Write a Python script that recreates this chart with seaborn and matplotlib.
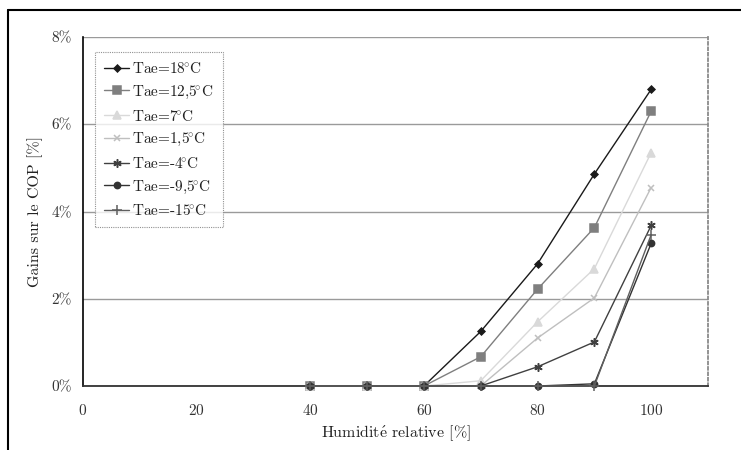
import pandas as pd
import matplotlib
matplotlib.use('Agg')
import matplotlib.pyplot as plt
from matplotlib.lines import Line2D
from matplotlib.ticker import FuncFormatter
import seaborn as sns

# humidité relative [%]
humidite = [40, 50, 60, 70, 80, 90, 100]

# gains sur le COP [%] pour chaque température extérieure
gain_18 = [0, 0, 0, 1.25, 2.80, 4.86, 6.80]
gain_12_5 = [0, 0, 0, 0.67, 2.22, 3.63, 6.30]
gain_7 = [0, 0, 0, 0.12, 1.47, 2.69, 5.35]
gain_1_5 = [0, 0, 0, 0, 1.10, 2.02, 4.55]
gain_m4 = [0, 0, 0, 0, 0.44, 1.01, 3.68]
gain_m9_5 = [0, 0, 0, 0, 0, 0.05, 3.27]
gain_m15 = [0, 0, 0, 0, 0, 0, 3.47]

deg = r'$\!^{\circ}$C'
series = ['Tae=18' + deg, 'Tae=12,5' + deg, 'Tae=7' + deg, 'Tae=1,5' + deg,
          'Tae=-4' + deg, 'Tae=-9,5' + deg, 'Tae=-15' + deg]
valeurs = [gain_18, gain_12_5, gain_7, gain_1_5, gain_m4, gain_m9_5, gain_m15]
couleurs = ['#1a1a1a', '#7f7f7f', '#d9d9d9', '#bfbfbf', '#404040', '#333333', '#5f5f5f']
marqueurs = ['D', 's', '^', 'x', (6, 2, 0), 'o', '+']
tailles = [3.5, 5.5, 5.5, 5, 6, 4.5, 7]

df = pd.concat([pd.DataFrame({'hr': humidite, 'gain': v, 'serie': s})
                for s, v in zip(series, valeurs)], ignore_index=True)

sns.set_style('white')
plt.rcParams['font.family'] = ['cmr10', 'DejaVu Serif']
plt.rcParams['axes.formatter.use_mathtext'] = True
plt.rcParams['mathtext.fontset'] = 'cm'

fig = plt.figure(figsize=(7.41, 4.5), dpi=100)
ax = fig.add_axes([83 / 741, 64 / 450, 625 / 741, 349 / 450])

for s, c, m, ms in zip(series, couleurs, marqueurs, tailles):
    sns.lineplot(data=df[df['serie'] == s], x='hr', y='gain', ax=ax, color=c,
                 marker=m, markersize=ms, markeredgecolor=c, markeredgewidth=1.1,
                 linewidth=1.0, label=s, clip_on=False, zorder=3)

ax.set_xlim(0, 110)
ax.set_ylim(0, 8)
ax.set_xticks([0, 20, 40, 60, 80, 100])
ax.set_yticks([0, 2, 4, 6, 8])
ax.yaxis.set_major_formatter(FuncFormatter(lambda v, p: f'{v:.0f}%'))
ax.grid(axis='y', color='#9a9a9a', linewidth=1)
ax.grid(axis='x', visible=False)
ax.tick_params(direction='inout', length=8, width=1, color='black',
               labelsize=11, labelcolor='#333333')
ax.tick_params(axis='x', pad=8)
ax.tick_params(axis='y', pad=4)

ax.spines['top'].set_visible(False)
ax.spines['left'].set_color('black')
ax.spines['left'].set_linewidth(1.2)
ax.spines['bottom'].set_color('#333333')
ax.spines['bottom'].set_linestyle((0, (2, 1)))
ax.spines['bottom'].set_linewidth(1.3)
ax.spines['right'].set_color('#8a8a8a')
ax.spines['right'].set_linestyle((0, (1.5, 1.5)))
ax.spines['right'].set_linewidth(1.3)

ax.set_xlabel(r'Humidit$\mathrm{\acute{e}}$ relative [%]', fontsize=11.5,
              color='#222222', labelpad=4)
ax.set_ylabel('Gains sur le COP [%]', fontsize=11.5, color='#222222', labelpad=6)

leg = ax.legend(loc='upper left', bbox_to_anchor=(0.019, 0.957), borderaxespad=0,
                fancybox=False, frameon=True, fontsize=11, labelspacing=0.5,
                handlelength=1.65, handletextpad=0.2, borderpad=0.6)
leg.get_frame().set_edgecolor('#777777')
leg.get_frame().set_linestyle((0, (1, 1)))
leg.get_frame().set_linewidth(0.8)
for t in leg.get_texts():
    t.set_color('#222222')

# cadre extérieur
fig.add_artist(Line2D([8 / 741, 8 / 741], [0, 440 / 450], color='black', linewidth=1.5))
fig.add_artist(Line2D([8 / 741, 1], [440 / 450, 440 / 450], color='black', linewidth=1.5))

fig.savefig('out.png', dpi=100)
